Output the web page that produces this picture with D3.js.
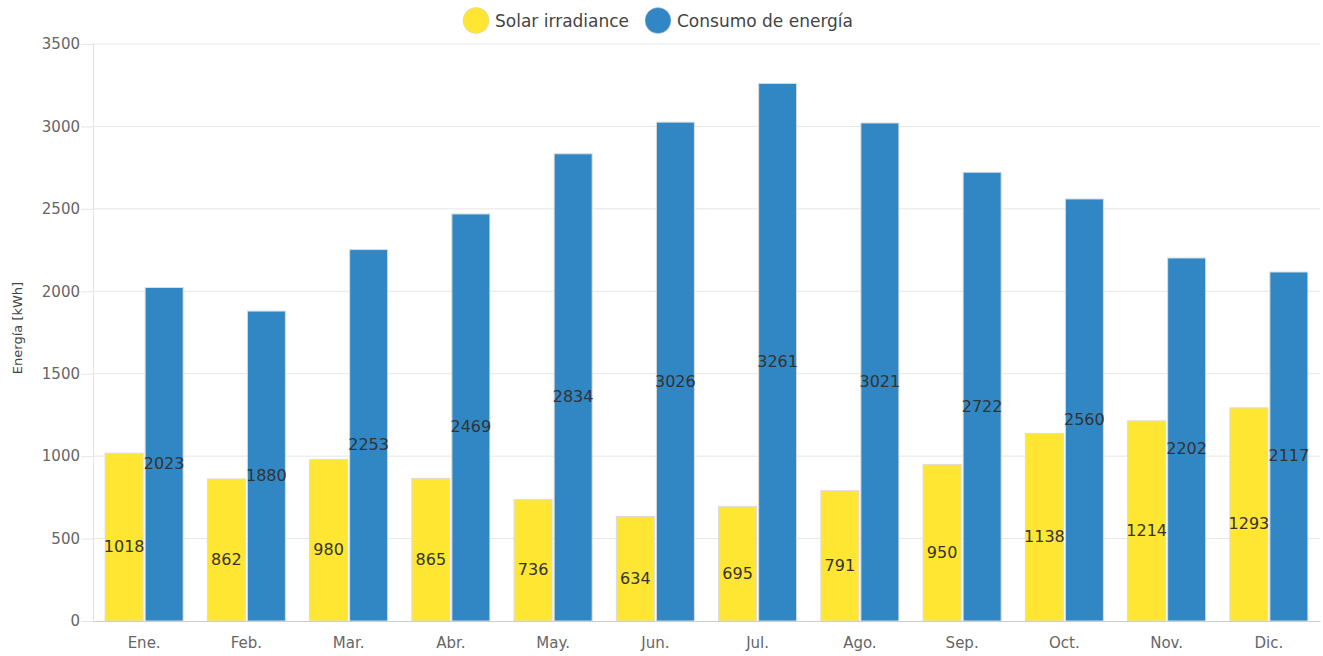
<!DOCTYPE html>
<html><head><meta charset="utf-8">
<script src="https://cdn.jsdelivr.net/npm/d3@7"></script>
<style>body{margin:0;background:#fff;} svg{display:block;}</style>
</head><body>
<svg id="c" width="1323" height="656"></svg>
<script>
const months = ["Ene.","Feb.","Mar.","Abr.","May.","Jun.","Jul.","Ago.","Sep.","Oct.","Nov.","Dic."];
const seriesNames = ["Solar irradiance","Consumo de energía"];
const solar = [1018,862,980,865,736,634,695,791,950,1138,1214,1293];
const consumo = [2023,1880,2253,2469,2834,3026,3261,3021,2722,2560,2202,2117];
const yTicks = [0,500,1000,1500,2000,2500,3000,3500];
const colors = ["#FFE633","#3187C4"];
const yTitle = "Energía [kWh]";

const FONT = "'DejaVu Sans', sans-serif";
const svg = d3.select("#c");
const L = 93, R = 1320, T = 44, B = 621;

const x0 = d3.scaleBand().domain(months).range([L, R]).paddingInner(0.237).paddingOuter(0.1185);
const x1 = d3.scaleBand().domain(seriesNames).range([0, x0.bandwidth()]).padding(0.05).paddingOuter(0);
const y = d3.scaleLinear().domain([0, 3500]).range([B, T]);

// grid
const yAxis = d3.axisLeft(y).tickValues(yTicks).tickSize(12).tickPadding(1).tickFormat(d3.format("d"));
const gy = svg.append("g").attr("transform", `translate(${L},0)`).call(yAxis);
gy.select(".domain").attr("stroke", "#e3e3e3");
gy.selectAll(".tick line").attr("stroke", "#e6e6e6");
gy.selectAll(".tick text").attr("fill", "#666").attr("font-family", FONT).attr("font-size", 15);
svg.append("g").selectAll("line").data(yTicks.filter(d => d > 0)).join("line")
  .attr("x1", L).attr("x2", R).attr("y1", d => y(d)).attr("y2", d => y(d))
  .attr("stroke", "#e6e6e6");

const data = months.map((m, i) => ({m, vals: [solar[i], consumo[i]]}));
const groups = svg.append("g").selectAll("g").data(data).join("g")
  .attr("transform", d => `translate(${x0(d.m)},0)`);
groups.selectAll("rect").data(d => d.vals.map((v, j) => ({v, s: seriesNames[j], j}))).join("rect")
  .attr("x", d => x1(d.s)).attr("width", x1.bandwidth())
  .attr("y", d => y(d.v)).attr("height", d => y(0) - y(d.v))
  .attr("fill", d => colors[d.j]).attr("stroke", "#dcdcdc").attr("stroke-width", 1);
groups.selectAll("text").data(d => d.vals.map((v, j) => ({v, s: seriesNames[j], j}))).join("text")
  .attr("x", d => x1(d.s) + x1.bandwidth() / 2)
  .attr("y", d => (y(d.v) + y(0)) / 2 + 15)
  .attr("text-anchor", "middle").attr("font-family", FONT).attr("font-size", 16)
  .attr("fill", "#333").text(d => d.v);

// x axis
const xAxis = d3.axisBottom(x0).tickSize(0).tickPadding(16);
const gx = svg.append("g").attr("transform", `translate(0,${B})`).call(xAxis);
gx.select(".domain").attr("stroke", "#ccc");
gx.selectAll(".tick text").attr("fill", "#666").attr("font-family", FONT).attr("font-size", 15);

// y title
svg.append("text").attr("transform", `translate(22,328) rotate(-90)`)
  .attr("text-anchor", "middle").attr("font-family", FONT).attr("font-size", 13)
  .attr("fill", "#444").text(yTitle);

// legend
const legX = [476, 658];
const lg = svg.append("g").selectAll("g").data(seriesNames).join("g")
  .attr("transform", (d, i) => `translate(${legX[i]},20.5)`);
lg.append("circle").attr("r", 13).attr("fill", (d, i) => colors[i]).attr("stroke", "#ccc").attr("stroke-width", 0.5);
lg.append("text").attr("x", 19).attr("y", 6).attr("font-family", FONT).attr("font-size", 17)
  .attr("fill", "#444").text(d => d);
</script>
</body></html>
